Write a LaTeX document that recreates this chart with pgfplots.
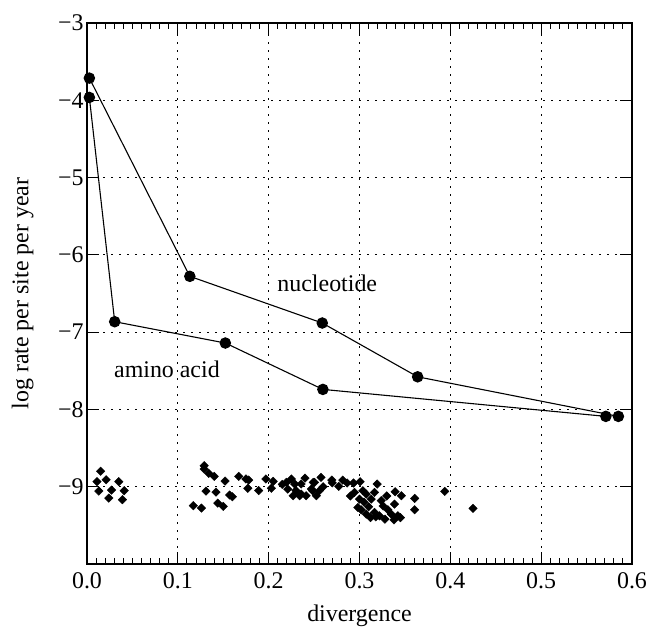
\documentclass[border=0pt]{standalone}
\usepackage{fontspec}
\setmainfont{Liberation Serif}
\usepackage{pgfplots}
\pgfplotsset{compat=1.18}

\begin{document}
\begin{tikzpicture}
\begin{axis}[
  scale only axis, width=545bp, height=541bp,
  xmin=0, xmax=0.6, ymin=-10, ymax=-3,
  xtick={0,0.1,0.2,0.3,0.4,0.5,0.6},
  xticklabels={0.0,0.1,0.2,0.3,0.4,0.5,0.6},
  ytick={-9,-8,-7,-6,-5,-4,-3},
  yticklabels={−9,−8,−7,−6,−5,−4,−3},
  minor x tick num=9,
  tick align=inside, major tick length=12bp, minor tick length=6bp,
  tick style={black, line width=1bp},
  axis line style={line width=1.3bp},
  grid=major, grid style={black, line width=1bp, dash pattern=on 2bp off 6bp},
  font=\fontsize{24}{28}\selectfont,
  xticklabel style={yshift=-5bp},
  xlabel={divergence}, ylabel={log rate per site per year},
  every axis x label/.style={at={(axis description cs:0.5,-0.096)}, anchor=center},
  every axis y label/.style={at={(axis description cs:-0.118,0.5)}, anchor=center, rotate=90},
]
% nucleotide
\addplot[black, line width=1.1bp, mark=*, mark size=5.2bp] coordinates {
  (0.0026,-3.713) (0.1132,-6.278) (0.259,-6.882) (0.364,-7.578) (0.585,-8.09)};
% amino acid
\addplot[black, line width=1.1bp, mark=*, mark size=5.2bp] coordinates {
  (0.0026,-3.963) (0.0305,-6.865) (0.1523,-7.141) (0.2597,-7.741) (0.5712,-8.09)};
% individual estimates
\addplot[only marks, mark=square*, mark size=3bp, mark options={rotate=45}, black] coordinates {
  (0.015,-8.80) (0.011,-8.935) (0.021,-8.91) (0.035,-8.935) (0.013,-9.056)
  (0.027,-9.043) (0.041,-9.052) (0.024,-9.147) (0.039,-9.168)
  (0.129,-8.728) (0.129,-8.771) (0.134,-8.827) (0.140,-8.866) (0.152,-8.927)
  (0.167,-8.866) (0.131,-9.056) (0.142,-9.069) (0.157,-9.108) (0.160,-9.130)
  (0.117,-9.246) (0.126,-9.276) (0.144,-9.212) (0.150,-9.255) (0.175,-8.90)
  (0.178,-8.914) (0.177,-9.02) (0.197,-8.90) (0.203,-9.02) (0.189,-9.05)
  (0.2195,-8.944) (0.225,-8.90) (0.240,-8.89) (0.249,-8.944) (0.227,-9.117)
  (0.234,-9.117) (0.2287,-8.965) (0.221,-9.03) (0.247,-9.03) (0.2526,-9.117)
  (0.2357,-8.965) (0.2504,-8.944) (0.2577,-8.879) (0.2695,-8.914) (0.2816,-8.914)
  (0.2864,-8.952) (0.2934,-8.952) (0.3007,-8.935) (0.3195,-8.965) (0.2772,-8.996)
  (0.2559,-9.052) (0.2412,-9.117) (0.2357,-9.095) (0.2485,-9.052) (0.2945,-9.073)
  (0.3037,-9.052) (0.3074,-9.095) (0.3165,-9.073) (0.3393,-9.065) (0.346,-9.117)
  (0.3607,-9.151) (0.3607,-9.298) (0.3938,-9.06) (0.425,-9.28) (0.300,-9.16)
  (0.3129,-9.16) (0.3239,-9.18) (0.3386,-9.225) (0.2982,-9.268) (0.3074,-9.354)
  (0.3165,-9.333) (0.322,-9.376) (0.3313,-9.298) (0.335,-9.354) (0.3423,-9.376)
  (0.312,-9.40) (0.328,-9.42) (0.338,-9.43) (0.345,-9.40) (0.318,-9.39)
  (0.302,-9.30) (0.326,-9.25) (0.31,-9.26) (0.29,-9.12) (0.305,-9.20)
  (0.33,-9.12) (0.215,-8.97) (0.205,-8.93) (0.23,-9.05) (0.26,-9.0) (0.27,-8.95)
};
\node at (axis cs:0.2645,-6.364) {nucleotide};
\node at (axis cs:0.088,-7.48) {amino acid};
\end{axis}
\pgfresetboundingbox
\path (current axis.south west) ++(-87bp,-64bp) rectangle ([shift={(17bp,23bp)}]current axis.north east);
\end{tikzpicture}
\end{document}
